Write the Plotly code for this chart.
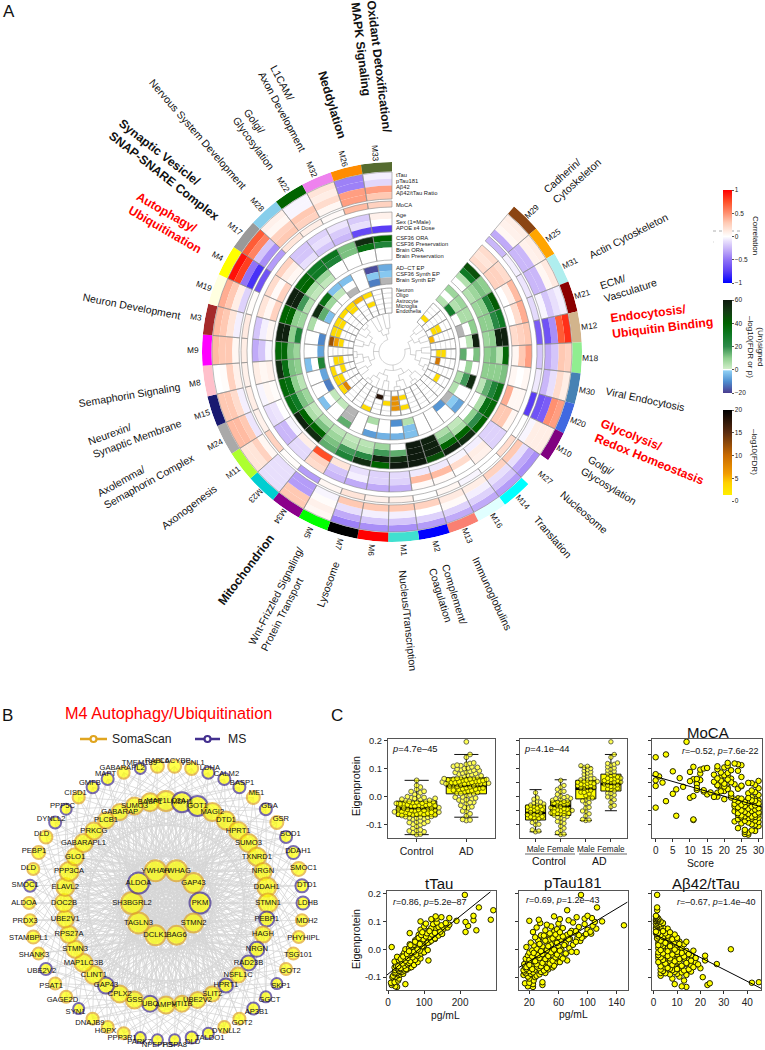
import math
import plotly.graph_objects as go

W, H = 765, 1050

# ---- module eigenprotein rings (clockwise from the gap at the top) ----
MODULES = ["M29","M25","M31","M21","M12","M18","M30","M20","M10","M27","M14","M16","M13","M2","M1","M6","M7",
           "M5","M34","M23","M11","M24","M15","M8","M9","M3","M19","M4","M17","M28","M22","M32","M26","M33"]
MODULE_COLORS = ["saddlebrown","orange","paleturquoise","darkred","tan","lightgreen","steelblue","royalblue",
                 "purple","white","cyan","lightcyan","salmon","blue","turquoise","red","black","lime","darkmagenta",
                 "darkturquoise","greenyellow","darkgrey","midnightblue","pink","magenta","brown","lightyellow",
                 "yellow","#999999","skyblue","darkgreen","violet","darkorange","darkolivegreen"]
tTau = [.1,.1,.12,-.05,.85,.25,.1,.45,.1,-.4,-.35,-.3,-.3,-.35,-.4,-.4,-.45,.05,.3,-.1,.15,.35,.3,0,.35,.35,.4,.95,.7,.08,-.03,.15,-.45,-.05]
pTau181 = [.08,.08,.05,-.1,.7,.3,.2,.5,.1,-.3,-.2,-.15,-.15,-.15,-.2,-.2,-.3,.08,.3,-.1,.15,.35,.3,.02,.3,.3,.3,.8,.55,.05,-.03,.1,-.45,-.13]
Abeta42 = [.05,-.25,-.25,-.2,-.4,-.2,-.1,-.6,.1,-.1,-.1,-.05,.03,0,-.05,-.05,-.1,.02,-.35,-.1,.25,.3,.2,.25,.3,.15,.1,-.5,-.2,.25,.3,.2,.45,.45]
AbTauRatio = [-.3,-.25,-.25,-.03,-.65,-.3,-.25,-.65,-.03,.3,.25,.1,.12,.25,.3,.3,.3,-.03,-.35,-.1,.05,-.08,-.05,.08,.05,-.05,-.15,-.8,-.4,.3,.25,.05,.45,.3]
MoCA = [-.25,-.05,-.08,-.12,-.6,-.2,-.07,-.75,0,.2,0,-.03,.05,0,.08,.08,.15,.05,-.35,.02,.25,.08,.1,.08,.1,.12,.02,-.65,-.35,.15,.1,.03,.35,.25]
Age = [.2,.2,.35,.4,.3,.45,.05,.05,.05,-.15,.08,0,.03,.03,-.28,-.3,-.3,-.25,.2,-.12,-.25,-.1,-.03,.1,-.3,-.2,.15,.2,.25,-.2,-.15,-.08,-.18,.08]
Sex = [.15,.25,.1,.2,.25,.3,0,.05,.3,-.15,.1,.2,.35,.35,-.15,-.15,-.05,-.2,.25,-.12,-.25,-.08,.05,.05,-.2,-.05,.05,.03,.1,-.2,-.1,-.18,-.1,0]
APOE = [.2,.25,0,0,.2,.05,.05,.4,.3,-.15,-.05,-.03,-.07,-.07,-.12,-.15,-.1,.15,.75,.1,-.03,0,.02,.08,-.03,.05,.25,.25,.05,-.1,-.2,-.25,-.7,-.75]
CSF_ORA = [45,10,42,30,58,38,12,35,38,40,55,58,45,60,60,40,55,25,15,55,58,35,38,55,38,58,40,58,38,30,32,12,55,40]
CSF_Pres = [30,12,25,22,58,4,10,25,35,20,40,40,58,60,55,58,22,18,12,40,40,30,35,35,38,58,40,58,40,30,25,12,35,25]
Brain_ORA = [5,8,10,10,10,12,10,15,6,10,6,12,58,60,15,18,6,5,8,12,6,12,10,12,12,10,10,18,6,8,0,0,0,0]
Brain_Pres = [0,5,8,10,8,10,10,4,0,0,3,6,58,60,0,8,4,3,4,5,3,8,4,10,8,25,8,5,3,3,0,0,0,0]
AD_CT_EP = [8,8,6,10,58,12,0,55,0,-7,0,0,0,-3,-5,-5,-8,0,15,0,-3,0,0,-3,0,0,6,55,35,-3,-3,0,-18,-6]
CSF_Synth = [0,5,6,0,4,0,8,18,0,-1.5,0,0,0,-3,0,0,0,0,None,0,0,0,0,0,0,0,0,15,8,3,0,0,-2,-2]
Brain_Synth = [5,28,0,None,0,15,0,6,5,None,-9,0,0,5,-10,0,6,0,None,3,3,-12,-7,25,-7,-11,0,-3,0,0,None,0,-12,None]
Neuron = [0,0,0,0,0,0,0,0,0,0,0,0,0,0,0,0,0,3,0,0,3,3,3,0,0,12,3,3,3,3,5,3,0,0]
Oligo = [0,0,0,0,0,0,0,0,0,0,0,0,0,3,7,0,0,0,0,0,8,3,0,3,0,6,3,3,0,3,0,0,0,0]
Astrocyte = [0,0,3,0,0,3,0,0,3,0,0,0,0,0,7,3,0,0,0,0,0,0,3,3,0,3,0,0,0,0,0,3,0,0]
Microglia = [3,0,3,0,0,3,9,0,0,0,0,0,0,3,7,0,18,0,0,0,0,0,0,0,0,0,0,0,0,0,0,0,0,0]
Endothelia = [0,0,0,5,0,0,0,0,0,0,0,0,0,0,0,0,0,0,0,0,0,0,0,0,0,0,0,0,0,0,0,0,0,0]

TRACK_NAMES = [["tTau","pTau181","Aβ42","Aβ42/tTau Ratio"],["MoCA"],["Age","Sex (1=Male)","APOE ε4 Dose"],
               ["CSF36 ORA","CSF36 Preservation","Brain ORA","Brain Preservation"],
               ["AD–CT EP","CSF36 Synth EP","Brain Synth EP"],["Neuron","Oligo","Astrocyte","Microglia","Endothelia"]]
TRACK_Y = [[175,181,187,193],[205],[215.5,221.5,228],[238,244,250,256.5],[267.5,274,280],[290.5,295.5,300.5,305.5,311]]
RING_DATA = [[tTau,pTau181,Abeta42,AbTauRatio],[MoCA],[Age,Sex,APOE],[CSF_ORA,CSF_Pres,Brain_ORA,Brain_Pres],
             [AD_CT_EP,CSF_Synth,Brain_Synth],[Neuron,Oligo,Astrocyte,Microglia,Endothelia]]
RING_R = [(180,153),(151,145),(140,120),(117,92),(88,68),(64,39)]
RING_AXIS = ["coloraxis","coloraxis","coloraxis","coloraxis2","coloraxis2","coloraxis3"]

# dendrogram on module positions, nested groups of indices
DENDRO = [[[[0,1],[2,3]],[[4,5],[6,[7,8]]]],[[[9,[10,11]],[12,[13,14]]],[[15,16],[17,[18,19]]]],
          [[[20,21],[22,[23,24]]],[[25,26],[27,[28,29]]]],[[30,31],[32,33]]]

# ---- panel B network ----
INNER = ["YWHAG","GAP43","PKM","STMN2","BAG6","DCLK1","TAGLN3","SH3BGRL2","ALDOA","YWHAH"]
INNER_MS = [0,0,1,0,0,0,0,0,1,0]
INNER_SIZE = [21,20,21,19,19,20,21,22,21,21]
MIDDLE = ["MAP1LC3A","MDH1","GOT1","MAGI2","DTD1","HPRT1","SUMO3","TXNRD1","NRGN","DDAH1","STMN1","PEBP1","HAGH","NRGN",
          "RAD23B","NSFL1C","HPRT1","SLIT2","UBE2V2","VTI1B","AMPH","UBC","GSS","CPLX2","GAP43","CLINT1","MAP1LC3B",
          "STMN3","RPS27A","UBE2V1","DOC2B","ELAVL2","PPP3CA","GLO1","GABARAPL1","PRKCG","PLCB1","GABARAP","SUMO3","BASP1"]
MIDDLE_MS = [0,1,1,0,0,0,0,0,0,0,0,1,0,1,1,0,1,0,0,0,0,1,0,0,1,0,0,0,0,0,0,0,0,0,0,0,0,0,0,0]
MIDDLE_SIZE = [20,20,20,18,18,18,18,18,17,19,19,15,16,15,15,15,14,15,16,16,17,16,17,17,16,18,18,17,17,17,18,18,19,17,18,17,16,16,17,18]
OUTER = ["CACYBP","VSNL1","LDHA","CALM2","BASP1","ME1","GDA","GSR","SOD1","DDAH1","SMOC1","DTD1","LDHB","MDH2","PHYHIPL",
         "TSG101","GOT2","SKP1","GGCT","AP3B1","GOT2","DYNLL2","TALDO1","DLD","HSPA8","NPEPPS","PARK7","PPP3R1","HOPX",
         "DNAJB9","SYN1","GAGE2D","PSAT1","UBE2V2","SHANK3","STAMBPL1","PRDX3","ALDOA","SMOC1","DLD","PEBP1","DLD",
         "DYNLL2","PPP5C","CISD1","GMFB","MAPT","GABARAPL2","TMEM189","RABL6"]
OUTER_MS = [0,0,1,1,1,0,1,0,1,1,0,1,1,0,0,0,0,1,1,1,0,0,1,1,1,1,1,0,0,0,1,0,0,1,0,0,0,0,1,0,0,0,1,1,0,1,1,0,1,0]
OUTER_SIZE = [13,13,12,12,12,13,12,13,12,13,14,13,13,12,12,12,12,11,11,12,12,12,11,12,11,11,11,12,12,12,11,12,12,12,12,13,12,12,12,12,13,13,12,11,12,12,12,12,11,13]

# ---- panel C samples: eigenprotein and clinical values per sample ----
EIGEN = [-.135,-.133,-.128,-.125,-.122,-.12,-.118,-.112,-.105,-.1,
         -.098,-.095,-.092,-.09,-.088,-.086,-.085,-.083,-.081,-.08,
         -.078,-.076,-.075,-.073,-.072,-.07,-.068,-.066,-.065,-.063,
         -.062,-.06,-.058,-.057,-.055,-.053,-.052,-.05,-.048,-.047,
         -.045,-.044,-.042,-.04,-.039,-.037,-.036,-.034,-.032,-.03,
         -.028,-.027,-.025,-.023,-.022,-.02,-.018,-.016,-.014,-.012,
         -.01,-.008,-.006,-.004,-.002,0,.002,.004,.006,.008,
         .01,.012,.014,.016,.018,.02,.022,.024,.026,.028,
         .03,.032,.034,.035,.037,.038,.04,.042,.043,.045,
         .047,.048,.05,.052,.054,.056,.058,.06,.062,.064,
         .066,.068,.07,.072,.074,.076,.078,.08,.082,.084,
         .086,.088,.09,.092,.094,.096,.098,.1,.102,.104,
         .106,.108,.11,.112,.115,.118,.12,.14,.15,.195,
         -.071,-.067,-.064,-.061,-.059,-.056,-.054,-.051,-.049,-.046,
         -.043,-.041,-.038,-.035,-.033,-.031,-.029,-.026,-.024,-.021,
         -.019,-.017,-.015,-.013,-.011,-.009,-.007,-.005,-.003,-.001,
         .011,.015,.019,.023,.027,.031,.036,.039,.041,.044,
         .046,.049,.051,.053,.055,.057,.059,.061,.063,.065]
GROUP = list("CCCccCcCCc" "cCcCCcaaaC" "cCcCcCaCcC" "cCCcCcaCcC" "CcCaCcAcCc" "cCaCcACcCa" "CaCcACCaAC" "aAcaCAaACa"
             "AaCaAaCAaA" "aAaAaACaAa" "AaAaAaAaAa" "AaAaAaAaAa" "AaaAAAAAAA" "cCcaCcCaCc" "CcaCcACcCa" "cCaCAcCaCA"
             "AaCaAaAaAa" "aAaAaAaAaA")
TTAU = [25,20,10,48,12,8,18,28,30,12, 22,14,30,35,42,18,25,20,35,40, 30,45,20,52,28,38,25,60,18,32,
        42,22,35,55,28,48,38,62,30,20, 52,18,40,112,30,60,45,70,55,38, 65,25,50,72,40,58,80,48,62,45,
        55,70,85,60,95,48,75,58,90,10, 68,80,100,72,60,90,105,78,115,85, 95,75,110,88,130,100,82,120,92,105,
        118,98,135,85,110,125,60,140,215,128, 112,245,90,130,155,120,165,140,100,222, 148,170,125,105,160,135,215,90,190,237,
        285,120,135,170,148,132,237,292,252,213, 50,35,65,28,45,72,55,40,58,82, 62,48,75,35,90,55,68,42,82,60,
        78,52,92,65,100,72,58,88,110,82, 95,62,88,110,75,120,98,130,85,115, 105,140,92,122,150,108,130,95,145,115]
PTAU = [25,18,38,25,14,20,38,26,20,28, 18,30,12,34,22,15,42,25,36,13, 20,40,12,28,46,16,33,22,52,14,
        30,17,42,24,50,13,36,56,28,45, 18,34,26,72,48,22,40,15,58,30, 44,25,62,36,18,52,28,70,40,20,
        85,33,55,24,64,42,30,75,48,16, 38,60,26,80,50,34,70,22,56,44, 90,32,64,48,76,40,86,58,28,68,
        52,95,36,72,46,105,62,82,25,54, 78,42,100,58,112,66,30,88,50,107, 150,44,96,60,35,80,110,120,20,74,
        33,62,96,106,85,54,100,72,113,91, 24,44,16,36,54,20,30,48,38,62, 28,52,20,42,66,34,56,24,46,32,
        58,38,70,26,50,78,36,62,44,54, 46,68,34,58,84,42,74,52,92,60, 66,40,88,56,98,48,76,62,104,84]
RATIO = [14,12,23,9,24,42,45,13,8,21, 11,3,14,7,10,5,3,12,9,16, 4,13,8,3,15,7,20,11,5,17,
         6,12,3,16,9,27,14,4,18,10, 5,11,7,22,15,3,9,13,2,6, 12,8,4,22,16,2,10,6,13,3,
         9,5,14,3,11,33,7,2,12,6, 8,4,10,3,13,6,2,9,5,11, 3,7,2,10,5,8,1.5,6,3,9,
         2,5,1.5,4,7,3,1,6,2,4, 3,1.5,5,2,6,1,4,2,3,1.5, 1.2,2,3,1,4,1.5,2.5,3,1,2,
         1.5,1,2,1.2,1.5,1,1,1.5,1.5,1.5, 10,6,17,3,12,8,19,5,14,2, 9,16,4,11,7,18,3,13,6,2,
         8,15,4,12,2,10,6,17,3,9, 7,2,11,5,14,3,8,1.5,10,4, 2,6,3,9,1.5,5,2,7,1,4]
MOCA_SCORE = [27,26,27,26,29,28,26,24,30,29, 28,25,27,30,23,26,29,11,11,24, 28,27,30,25,29,26,6,28,24,30,
              27,29,25,28,30,26,23,27,29,24, 26,30,28,25,0,27,29,23,26,28, 30,25,27,24,29,26,28,3,30,25,
              27,29,24,10,28,18,11,22,30,15, 5,27,18,29,14,20,28,12,6,24, 30,21,19,8,25,0,18,29,19,12,
              20,28,2,19,18,30,0,21,11,22, 7,19,25,1,21,20,17,0,13,21, 19,10,5,24,22,13,18,14,15,20,
              11,18,21,25,24,23,21,0,3,9, 28,25,29,27,24,30,26,28,25,29, 27,30,24,28,26,29,25,23,30,27,
              26,24,29,28,23,20,25,27,22,17, 22,16,19,14,21,12,20,25,18,23, 20,27,22,17,10,19,13,21,12,18]

# box stats: q1, median, q3, lower, upper
BOX_DIAG = dict(q1=[-.07,.01], median=[-.042,.038], q3=[-.016,.067], lowerfence=[-.135,-.073], upperfence=[.058,.15])
BOX_SEX = dict(q1=[-.083,-.067,-.008,.02], median=[-.058,-.033,.028,.045], q3=[-.03,-.015,.058,.08],
               lowerfence=[-.125,-.135,-.085,-.05], upperfence=[.025,.06,.105,.15])
# regression end points
LINE_MOCA = ([-1.07,31],[.075,-.037])
LINE_TTAU = ([-3,284],[-.092,.206])
LINE_PTAU = ([5.8,154.7],[-.065,.169])
LINE_RATIO = ([0,45.9],[.056,-.14])

CORR_SCALE = [[0,"#0000ff"],[.125,"#5a3df5"],[.25,"#9173f6"],[.35,"#c0aaf8"],[.45,"#e8dffc"],[.5,"#ffffff"],
              [.55,"#ffeee6"],[.65,"#ffc9b3"],[.75,"#ff9070"],[.875,"#ff4f28"],[1,"#ff0000"]]
SIG_SCALE = [[0,"#4a3b8f"],[.125,"#4f8fd0"],[.24,"#8fd0f5"],[.246,"#ffffff"],[.256,"#ffffff"],[.262,"#d0eec8"],
             [.375,"#8fcf8f"],[.5,"#2e8b4a"],[.625,"#0f7a25"],[.75,"#006400"],[.875,"#143d14"],[1,"#0e1a0e"]]
FDR_SCALE = [[0,"#ffffff"],[.07,"#ffffff"],[.07,"#ffee00"],[.2,"#ffd000"],[.3,"#f29c00"],[.5,"#c96a00"],
             [.75,"#5c2d10"],[1,"#000000"]]

FONT = "Liberation Sans, Arial, sans-serif"
STEP = 320 / len(MODULES)
THETA = [40 + STEP * (i + .5) for i in range(len(MODULES))]


def paper(px, py):
    return px / W, 1 - py / H


def note(text, px, py, size, angle=0, color="#111111", anchor="center", align="center"):
    x, y = paper(px, py)
    return dict(text=text, x=x, y=y, xref="paper", yref="paper", showarrow=False, textangle=angle, align=align,
                xanchor=anchor, yanchor="middle", font=dict(size=size, color=color, family=FONT))


fig = go.Figure()
annotations = []
shapes = []

# rings
fig.add_trace(go.Barpolar(theta=THETA, width=STEP, r=[9.5] * len(MODULES), base=[180.5] * len(MODULES),
                          marker=dict(color=MODULE_COLORS, line=dict(width=0)), showlegend=False))
for tracks, (r_out, r_in), axis in zip(RING_DATA, RING_R, RING_AXIS):
    dr = (r_out - r_in) / len(tracks)
    for k, vals in enumerate(tracks):
        inner = r_out - dr * (k + 1)
        ok = [i for i, v in enumerate(vals) if v is not None]
        fig.add_trace(go.Barpolar(theta=[THETA[i] for i in ok], width=STEP, r=[dr] * len(ok), base=[inner] * len(ok),
                                  marker=dict(color=[vals[i] for i in ok], coloraxis=axis, line=dict(width=0)),
                                  showlegend=False))
        na = [i for i, v in enumerate(vals) if v is None]
        if na:
            fig.add_trace(go.Barpolar(theta=[THETA[i] for i in na], width=STEP, r=[dr] * len(na), base=[inner] * len(na),
                                      marker=dict(color="#b5b5b5", line=dict(width=0)), showlegend=False))
        if axis == "coloraxis3":
            fig.add_trace(go.Barpolar(theta=THETA, width=STEP, r=[dr] * len(THETA), base=[inner] * len(THETA),
                                      marker=dict(color="rgba(0,0,0,0)", line=dict(color="#c8c8c8", width=.5)),
                                      showlegend=False))
    fig.add_trace(go.Barpolar(theta=THETA, width=STEP, r=[r_out - r_in] * len(THETA), base=[r_in] * len(THETA),
                              marker=dict(color="rgba(0,0,0,0)", line=dict(color="#8a8a8a", width=.6)),
                              showlegend=False))

# dendrogram inside the rings
tree_t, tree_r = [], []


def tree(node, depth):
    if isinstance(node, int):
        return THETA[node], 39.0
    r = 13 + depth * 5.5
    kids = [tree(c, depth + 1) for c in node]
    lo, hi = min(k[0] for k in kids), max(k[0] for k in kids)
    for t, rk in kids:
        tree_t.extend([t, t, None])
        tree_r.extend([rk, r, None])
    n = max(2, int((hi - lo) / 3))
    tree_t.extend([lo + (hi - lo) * j / n for j in range(n + 1)] + [None])
    tree_r.extend([r] * (n + 1) + [None])
    return (lo + hi) / 2, r


tree(DENDRO, 0)
fig.add_trace(go.Scatterpolar(theta=tree_t, r=tree_r, mode="lines", line=dict(color="#b0b0b0", width=.6),
                              hoverinfo="skip", showlegend=False))

# ring labels
for name, t in zip(MODULES, THETA):
    r = 199
    ang = t - 90 if t < 228 else t - 270
    annotations.append(note(name, 392 + r * math.sin(math.radians(t)), 352 - r * math.cos(math.radians(t)), 8.3, ang))
for names, ys in zip(TRACK_NAMES, TRACK_Y):
    for name, y in zip(names, ys):
        annotations.append(note(name, 394, y, 5.8 if y < 288 else 5.3, 0, "#222222", "left"))

RED = "#ff0000"
THEMES = [("Cadherin/<br>Cytoskeleton", 572, 176, -42, 0, 0), ("Actin Cytoskeleton", 628, 236, -27, 0, 0),
          ("ECM/<br>Vasculature", 628, 284, -18, 0, 0), ("Endocytosis/<br>Ubiquitin Binding", 662, 320, -7, 1, 1),
          ("Viral Endocytosis", 645, 399, 12, 0, 0), ("Glycolysis/<br>Redox Homeostasis", 652, 452, 22, 1, 1),
          ("Golgi/<br>Glycosylation", 612, 480, 31, 0, 0), ("Nucleosome", 584, 512, 41, 0, 0),
          ("Translation", 553, 537, 49, 0, 0), ("Immunoglobulins", 492, 593, 65, 0, 0),
          ("Complement/<br>Coagulation", 448, 596, 73, 0, 0), ("Nucleus/Transcription", 408, 620, 84, 0, 0),
          ("Lysosome", 328, 584, -70, 0, 0), ("Wnt-Frizzled Signaling/<br>Protein Transport", 282, 599, -63, 0, 0),
          ("Mitochondrion", 246, 570, -53, 0, 1), ("Axonogenesis", 189, 507, -37, 0, 0),
          ("Axolemma/<br>Semaphorin Complex", 146, 475, -29, 0, 0), ("Neurexin/<br>Synaptic Membrane", 135, 432, -20, 0, 0),
          ("Semaphorin Signaling", 129, 395, -9.5, 0, 0), ("Neuron Development", 131, 306, 11, 0, 0),
          ("Autophagy/<br>Ubiquitination", 169, 223, 30, 1, 1), ("Synaptic Vesicle/<br>SNAP-SNARE Complex", 169, 170, 38, 0, 1),
          ("Nervous System Development", 198, 134, 49, 0, 0), ("Golgi/<br>Glycosylation", 259, 139, 54, 0, 0),
          ("L1CAM/<br>Axon Development", 288, 108, 62, 0, 0), ("Neddylation", 332, 105, 73, 0, 1),
          ("Oxidant Detoxification/<br>MAPK Signaling", 371, 67, 83, 0, 1)]
for text, px, py, ang, red, bold in THEMES:
    shown = f"<b>{text}</b>" if bold else text
    annotations.append(note(shown, px, py, 12.2 if bold else 10.5, ang, RED if red else "#111111", align="left"))

annotations += [note("A", 9, 11, 17), note("B", 8, 715, 17), note("C", 337, 715, 17),
                note("Correlation", 755, 235, 8, 90), note("(Un)signed<br>–log10(FDR or p)", 756, 347, 8, 90),
                note("–log10(FDR)", 755, 452, 8, 90)]
shapes += [dict(type="line", xref="paper", yref="paper", x0=713 / W, x1=742 / W, y0=1 - 231 / H, y1=1 - 231 / H,
                line=dict(color="#999999", width=.8, dash="dot")),
           dict(type="line", xref="paper", yref="paper", x0=713 / W, x1=742 / W, y0=1 - 242 / H, y1=1 - 242 / H,
                line=dict(color="#bbbbbb", width=.6, dash="1px,14px"))]

# ---- panel B ----
R_IN, R_MID, R_OUT = 34, 102, 137


def ring_xy(count, radius, offset):
    xs, ys = [], []
    for i in range(count):
        a = math.radians(offset + 360 / count * i)
        xs.append(radius * math.sin(a))
        ys.append(radius * math.cos(a))
    return xs, ys


ix, iy = ring_xy(len(INNER), R_IN, 18)
mx, my = ring_xy(len(MIDDLE), R_MID, 0)
ox, oy = ring_xy(len(OUTER), R_OUT, 3.6)
lx, ly = ring_xy(len(OUTER), R_OUT + 5, 3.6)

ex, ey = [], []


def edge(x0, y0, x1, y1):
    ex.extend([x0, x1, None])
    ey.extend([y0, y1, None])


for a in range(len(INNER)):
    for b in range(a + 1, len(INNER)):
        edge(ix[a], iy[a], ix[b], iy[b])
    for m in range(len(MIDDLE)):
        edge(ix[a], iy[a], mx[m], my[m])
for m in range(len(MIDDLE)):
    for s in (1, 5, 9, 14):
        edge(mx[m], my[m], mx[(m + s) % len(MIDDLE)], my[(m + s) % len(MIDDLE)])
for o in range(len(OUTER)):
    near = round(o * len(MIDDLE) / len(OUTER))
    for s in (-4, -2, 0, 2, 4):
        edge(ox[o], oy[o], mx[(near + s) % len(MIDDLE)], my[(near + s) % len(MIDDLE)])
    edge(ox[o], oy[o], ix[o % len(INNER)], iy[o % len(INNER)])

fig.add_trace(go.Scatter(x=ex, y=ey, mode="lines", line=dict(color="#d6d6d6", width=.8), hoverinfo="skip",
                         showlegend=False, xaxis="x", yaxis="y"))
GOLD, NAVY = "#e0a520", "#43308f"
for xs, ys, names, ms, sizes in [(ox, oy, OUTER, OUTER_MS, OUTER_SIZE), (mx, my, MIDDLE, MIDDLE_MS, MIDDLE_SIZE),
                                 (ix, iy, INNER, INNER_MS, INNER_SIZE)]:
    fig.add_trace(go.Scatter(x=xs, y=ys, mode="markers",
                             marker=dict(color="#ffff00", size=sizes, line=dict(color=[NAVY if v else GOLD for v in ms], width=2)),
                             text=names, hoverinfo="text", showlegend=False, xaxis="x", yaxis="y"))
fig.add_trace(go.Scatter(x=lx, y=ly, mode="text", text=OUTER, textfont=dict(size=7.6, family=FONT, color="#111111"),
                         hoverinfo="skip", showlegend=False, xaxis="x", yaxis="y"))
fig.add_trace(go.Scatter(x=mx + ix, y=my + iy, mode="text", text=MIDDLE + INNER,
                         textfont=dict(size=7.6, family=FONT, color="#111111"),
                         hoverinfo="skip", showlegend=False, xaxis="x", yaxis="y"))
# key above the network, network axes are in page pixels around its centre
for name, col, left, right, mid in [("SomaScan", GOLD, 80, 107, 110), ("MS", NAVY, 195, 220, 226)]:
    fig.add_trace(go.Scatter(x=[left - 166, (left + right) / 2 - 166, right - 166], y=[164, 164, 164], mode="lines",
                             line=dict(color=col, width=2.5), hoverinfo="skip", name=name, showlegend=False,
                             xaxis="x", yaxis="y"))
    fig.add_trace(go.Scatter(x=[(left + right) / 2 - 166], y=[164], mode="markers", hoverinfo="skip", name=name,
                             marker=dict(color="white", size=6, line=dict(color=col, width=2.2)), showlegend=False,
                             xaxis="x", yaxis="y"))
    annotations.append(note(name, mid, 739, 12.2, 0, "#222222", "left"))
annotations.append(note("M4 Autophagy/Ubiquitination", 168, 713, 16.3, 0, RED))


# ---- panel C ----
def swarm(values, center, xscale, yscale, gap):
    placed, out = [], {}
    for i in sorted(range(len(values)), key=lambda j: values[j]):
        y = values[i] * yscale
        k = 0
        while True:
            off = ((k + 1) // 2) * (1 if k % 2 else -1) * gap * .5
            if all((off - a) ** 2 + (y - b) ** 2 >= gap * gap for a, b in placed):
                break
            k += 1
        placed.append((off, y))
        out[i] = center + off / xscale
    return [out[i] for i in range(len(values))]


AX_STYLE = dict(showline=True, mirror=True, linecolor="#555555", linewidth=1.3, ticks="outside", ticklen=3,
                tickcolor="#333333", showgrid=False, zeroline=False, tickangle=0,
                tickfont=dict(size=9.3, family=FONT, color="#222222"))


def add_axes(n, box, xr, yr, xtick, ytick, show_y, xsize=10):
    left, top, right, bottom = box
    fig.layout[f"xaxis{n}"] = dict(AX_STYLE, domain=[left / W, right / W], range=xr, anchor=f"y{n}", **xtick)
    fig.layout[f"xaxis{n}"].tickfont.size = xsize
    fig.layout[f"yaxis{n}"] = dict(AX_STYLE, domain=[1 - bottom / H, 1 - top / H], range=yr, anchor=f"x{n}",
                                   tickmode="array", tickvals=ytick,
                                   ticktext=[("0.0" if v == 0 else f"{v:g}") if show_y else "" for v in ytick])


YR1, YR2 = [-.147, .205], [-.146, .209]
T10 = [-.1, 0, .1, .2]
T05 = [-.1, -.05, 0, .05, .1, .15, .2]


def scatter_points(xs, ys, n, size=5.5, opacity=1):
    fig.add_trace(go.Scatter(x=xs, y=ys, mode="markers", xaxis=f"x{n}", yaxis=f"y{n}", showlegend=False, opacity=opacity,
                             marker=dict(color="#ffff00", size=size, line=dict(color="#222200", width=1))))


def add_line(pair, n):
    fig.add_trace(go.Scatter(x=pair[0], y=pair[1], mode="lines", xaxis=f"x{n}", yaxis=f"y{n}", showlegend=False,
                             line=dict(color="black", width=1), cliponaxis=True))


def add_box(stats, n, centers, w):
    fig.add_trace(go.Box(x=centers, width=w, whiskerwidth=.6, fillcolor="#ffff00", line=dict(color="#111111", width=1),
                         xaxis=f"x{n}", yaxis=f"y{n}", showlegend=False, **stats))
    mx_, my_ = [], []
    for c, med in zip(centers, stats["median"]):
        mx_ += [c - w / 2, c + w / 2, None]
        my_ += [med, med, None]
    fig.add_trace(go.Scatter(x=mx_, y=my_, mode="lines", line=dict(color="black", width=2.6), xaxis=f"x{n}", yaxis=f"y{n}",
                             showlegend=False))


# box 1
add_axes(2, (388, 739, 495, 838), [-.577, 1.577], YR1, dict(tickmode="array", tickvals=[0, 1], ticktext=["Control", "AD"]), T10, True, 10.5)
add_box(BOX_DIAG, 2, [0, 1], .81)
for grp, c in [("cC", 0), ("aA", 1)]:
    vals = [e for e, g in zip(EIGEN, GROUP) if g in grp]
    scatter_points(swarm(vals, c, 49.7, 280, 3.7), vals, 2, 4.8, .68)

# box 2
add_axes(3, (520, 739, 627, 838), [-.62, 3.64], YR1,
         dict(tickmode="array", tickvals=[0, 1, 2, 3], ticktext=["Male", "Female", "Male", "Female"]), T05, False, 8.2)
add_box(BOX_SEX, 3, [0, 1, 2, 3], .8)
for grp, c in [("c", 0), ("C", 1), ("a", 2), ("A", 3)]:
    vals = [e for e, g in zip(EIGEN, GROUP) if g == grp]
    scatter_points(swarm(vals, c, 25.2, 280, 3.3), vals, 3, 4.4, .68)

# MoCA
add_axes(4, (652, 739, 762, 838), [-1.07, 31], YR1, dict(tickvals=[0, 5, 10, 15, 20, 25, 30], tickmode="array"), T05, False)
scatter_points(MOCA_SCORE, EIGEN, 4)
add_line(LINE_MOCA, 4)
# tTau
add_axes(5, (387, 891, 496, 990), [-3, 299.5], YR2, dict(tickvals=[0, 100, 200, 300], tickmode="array"), T10, True)
scatter_points(TTAU, EIGEN, 5)
add_line(LINE_TTAU, 5)
# pTau181
add_axes(6, (519, 891, 628, 990), [5.8, 155.6], YR2, dict(tickvals=[20, 60, 100, 140], tickmode="array"), T10, False)
scatter_points(PTAU, EIGEN, 6)
add_line(LINE_PTAU, 6)
# ratio
add_axes(7, (652, 891, 761, 990), [-.7, 45.9], YR2, dict(tickvals=[0, 10, 20, 30, 40], tickmode="array"), T10, False)
scatter_points(RATIO, EIGEN, 7)
add_line(LINE_RATIO, 7)

annotations += [note("Eigenprotein", 356, 786, 10.7, -90), note("Eigenprotein", 356, 939, 10.7, -90),
                note("<i>p</i>=4.7e–45", 415, 748, 9.4), note("<i>p</i>=4.1e–44", 547, 748, 9.4),
                note("<i>r</i>=–0.52, <i>p</i>=7.6e-22", 720, 751, 9), note("<i>r</i>=0.86, <i>p</i>=5.2e–87", 430, 902, 9),
                note("<i>r</i>=0.69, <i>p</i>=1.2e–43", 563, 900, 9), note("<i>r</i>=–0.67, <i>p</i>=1.4e–40", 716, 902, 9),
                note("MoCA", 708, 732, 15), note("tTau", 439, 883, 15), note("pTau181", 573, 882, 15),
                note("Aβ42/tTau", 706, 883, 15), note("Control", 549, 861, 10.5), note("AD", 599, 861, 10.5),
                note("Score", 700, 863, 10.3), note("pg/mL", 445, 1015, 10.3), note("pg/mL", 573, 1014, 10.3)]
for x0, x1 in [(525, 575), (579, 627)]:
    shapes.append(dict(type="line", xref="paper", yref="paper", x0=x0 / W, x1=x1 / W, y0=1 - 854 / H, y1=1 - 854 / H,
                       line=dict(color="#666666", width=1.2)))

layout_polar = dict(domain=dict(x=[(392 - 190) / W, (392 + 190) / W], y=[1 - (352 + 190) / H, 1 - (352 - 190) / H]),
                    barmode="overlay", bgcolor="rgba(0,0,0,0)",
                    radialaxis=dict(visible=False, range=[0, 190]),
                    angularaxis=dict(visible=False, direction="clockwise", rotation=90))


def bar_style(y_top, length, vals):
    return dict(x=723 / W, xanchor="left", xpad=0, y=1 - y_top / H, yanchor="top", ypad=0, lenmode="pixels", len=length,
                thickness=9, thicknessmode="pixels", outlinewidth=0, ticks="outside", ticklen=2, tickcolor="#555555",
                tickvals=vals, ticktext=[str(v).replace("-", "−") for v in vals],
                tickfont=dict(size=6.5, family=FONT, color="#222222"))


fig.update_layout(
    width=W, height=H, margin=dict(l=0, r=0, t=0, b=0, autoexpand=False), paper_bgcolor="white", plot_bgcolor="white",
    font=dict(family=FONT), polar=layout_polar, annotations=annotations, shapes=shapes, showlegend=False,
    xaxis=dict(domain=[0, 336.6 / W], range=[-166, 170.6], visible=False, fixedrange=True),
    yaxis=dict(domain=[0, 320 / H], range=[-147, 173], visible=False, fixedrange=True),
    coloraxis=dict(cmin=-1, cmax=1, colorscale=CORR_SCALE, colorbar=bar_style(190, 93, [1, .5, 0, -.5, -1])),
    coloraxis2=dict(cmin=-20, cmax=60, colorscale=SIG_SCALE, colorbar=bar_style(300, 93, [60, 40, 20, 0, -20])),
    coloraxis3=dict(cmin=0, cmax=20, colorscale=FDR_SCALE, colorbar=bar_style(410, 91, [20, 15, 10, 5, 0])),
)

fig.write_html("out.html", post_script="document.body.style.margin='0';", config={"displayModeBar": False})
